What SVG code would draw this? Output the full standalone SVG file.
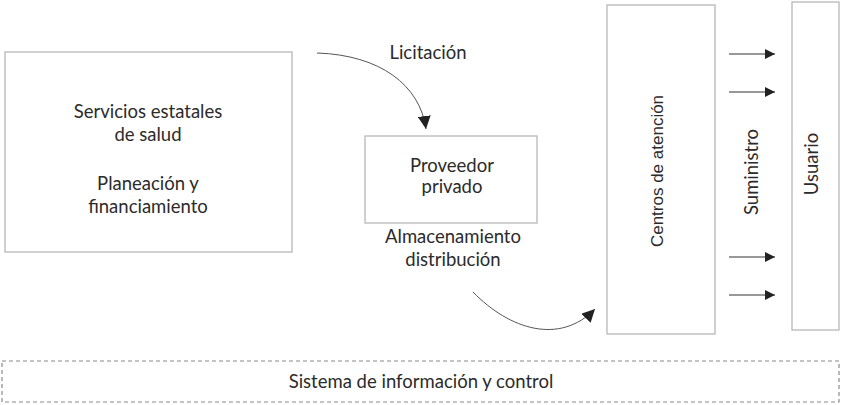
<svg xmlns="http://www.w3.org/2000/svg" width="842" height="405" viewBox="0 0 842 405">
<defs>
<style>
.box{fill:#fff;stroke:#bdbdbd;stroke-width:1.4}
.dash{fill:none;stroke:#8a8a8a;stroke-width:1.2;stroke-dasharray:4 3}
.t{font-family:Lato,"Open Sans",sans-serif;font-size:18.5px;fill:#2b2b2b;text-anchor:middle}
.ta{font-family:"Liberation Sans",Arial,sans-serif;font-size:17px;fill:#2b2b2b;text-anchor:middle}
.c{fill:none;stroke:#555;stroke-width:1}
.s{fill:none;stroke:#333;stroke-width:1.2}
</style>
<marker id="ah" viewBox="0 0 10 10" refX="10" refY="5" markerWidth="10" markerHeight="10" markerUnits="userSpaceOnUse" orient="auto">
<path d="M0,0 L10,5 L0,10 Z" fill="#222"/>
</marker>
<marker id="ah2" viewBox="0 0 10 10" refX="10" refY="5" markerWidth="13" markerHeight="13" markerUnits="userSpaceOnUse" orient="auto">
<path d="M0,0 L10,5 L0,10 Z" fill="#222"/>
</marker>
</defs>
<rect width="842" height="405" fill="#fff"/>
<g id="servicios">
<rect class="box" x="5" y="52" width="287" height="200"/>
<text class="t" x="148" y="118">Servicios estatales</text>
<text class="t" x="148" y="141">de salud</text>
<text class="t" x="148" y="190">Planeación y</text>
<text class="t" x="148" y="213">financiamiento</text>
</g>
<g id="proveedor">
<rect class="box" x="365" y="136" width="172" height="87"/>
<text class="t" x="452" y="172">Proveedor</text>
<text class="t" x="452" y="193">privado</text>
</g>
<g id="centros">
<rect class="box" x="607" y="5" width="108" height="329"/>
<text class="ta" transform="translate(663,171) rotate(-90)">Centros de atención</text>
</g>
<g id="usuario">
<rect class="box" x="792" y="2" width="47" height="328"/>
<text class="t" transform="translate(818,164) rotate(-90)">Usuario</text>
</g>
<g id="suministro">
<text class="t" transform="translate(758,172) rotate(-90)">Suministro</text>
</g>
<g id="sistema">
<rect class="dash" x="2" y="361" width="837" height="41"/>
<text class="t" x="421" y="388">Sistema de información y control</text>
</g>
<g id="labels">
<text class="t" x="428" y="59">Licitación</text>
<text class="t" x="453" y="243">Almacenamiento</text>
<text class="t" x="453" y="266">distribución</text>
</g>
<g id="connectors">
<path class="c" d="M317,53 C380,55 420,85 426,129" marker-end="url(#ah2)"/>
<path class="c" d="M473,292 C510,330 560,345 595,309" marker-end="url(#ah2)"/>
<path class="s" d="M729,54 H775" marker-end="url(#ah)"/>
<path class="s" d="M729,92 H775" marker-end="url(#ah)"/>
<path class="s" d="M729,257 H775" marker-end="url(#ah)"/>
<path class="s" d="M729,295 H775" marker-end="url(#ah)"/>
</g>
</svg>
